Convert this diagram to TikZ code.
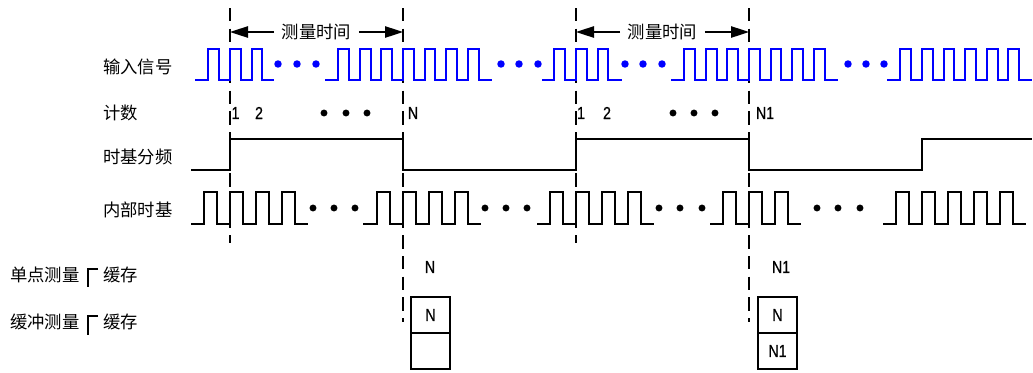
\documentclass[tikz,border=0pt]{standalone}
\usepackage{fontspec}
\setmainfont{Noto Sans CJK SC}
\newfontfamily\narrowfont[FakeStretch=0.82,FakeBold=0.6]{Liberation Sans}
\usetikzlibrary{arrows.meta}

\begin{document}
\begin{tikzpicture}[x=0.75pt,y=-0.75pt,
row/.style={%
font={\fontsize{13pt}{15}\selectfont},
inner sep=0,
anchor=west,
},
tag/.style={%
font={\narrowfont\fontsize{13pt}{15}\selectfont},
inner sep=0,
},
spantext/.style={%
font={\fontsize{13pt}{15}\selectfont},
inner sep=5.5pt,
},
span/.style={%
line width=1.2pt,
-{Triangle[length=13.5pt,width=8.5pt]},
},
sig/.style={%
draw=blue,
line width=1.5pt,
},
clk/.style={%
draw=black,
line width=1.5pt,
},
cut/.style={%
line width=1.5pt,
dash pattern=on 10pt off 5.5pt,
},
brk/.style={%
line width=1.2pt,
},
cell/.style={%
tag,
draw,
line width=1.5pt,
outer sep=0,
minimum width=29.25pt,
minimum height=27pt,
}
]
\useasboundingbox (0,0) rectangle (1033,372);

%Row labels
\node[row](inp)at(103,67){输入信号};
\node[row](cnt)at(103,113){计数};
\node[row](div)at(103,157){时基分频};
\node[row](base)at(103,210){内部时基};

%Cut lines
\coordinate(c1)at(230,8);\coordinate(c1b)at(230,243);
\coordinate(c2)at(403,8);\coordinate(c2b)at(403,322);
\coordinate(c3)at(576,8);\coordinate(c3b)at(576,243);
\coordinate(c4)at(749,8);\coordinate(c4b)at(749,322);
\draw[cut](c1)--(c1b);
\draw[cut](c2)--(c2b);
\draw[cut](c3)--(c3b);
\draw[cut](c4)--(c4b);

%Measuring time
\node[spantext](span1)at(316.5,32){测量时间};
\draw[span](span1.west)--(span1.west-|c1);
\draw[span](span1.east)--(span1.east-|c2);
\node[spantext](span2)at(662.5,32){测量时间};
\draw[span](span2.west)--(span2.west-|c3);
\draw[span](span2.east)--(span2.east-|c4);

%Input signal
\draw[sig](195,80)-|(208,49)-|(219,80)-|(230,49)-|(241,80)-|(252,49)-|(262,80)--(274,80);
\draw[sig](325,80)-|(338,49)-|(349,80)-|(360,49)-|(371,80)-|(381,49)-|(392,80)-|(403,49)
  -|(414,80)-|(425,49)-|(435,80)-|(446,49)-|(457,80)-|(468,49)-|(479,80)--(492,80);
\draw[sig](542,80)-|(554,49)-|(565,80)-|(576,49)-|(587,80)-|(598,49)-|(608,80)--(622,80);
\draw[sig](671,80)-|(684,49)-|(695,80)-|(706,49)-|(717,80)-|(727,49)-|(738,80)-|(749,49)
  -|(760,80)-|(771,49)-|(781,80)-|(792,49)-|(803,80)-|(814,49)-|(825,80)--(838,80);
\draw[sig](887,80)-|(900,49)-|(911,80)-|(922,49)-|(933,80)-|(944,49)-|(954,80)-|(965,49)
  -|(976,80)-|(987,49)-|(998,80)-|(1008,49)-|(1019,80)--(1032,80);
\fill[blue](278,64)circle(2.8pt)(297,64)circle(2.8pt)(316,64)circle(2.8pt);
\fill[blue](501,64)circle(2.8pt)(519,64)circle(2.8pt)(538,64)circle(2.8pt);
\fill[blue](625,64)circle(2.8pt)(643,64)circle(2.8pt)(662,64)circle(2.8pt);
\fill[blue](848,64)circle(2.8pt)(866,64)circle(2.8pt)(884,64)circle(2.8pt);

%Count
\node[tag](k1)at(235.5,113){1};
\node[tag](k2)at(259,113){2};
\node[tag](kn)at(413,113){N};
\node[tag](k3)at(581,113){1};
\node[tag](k4)at(607,113){2};
\node[tag](kn1)at(765,113){N1};
\fill(324,113)circle(2.6pt)(346,113)circle(2.6pt)(367,113)circle(2.6pt);
\fill(673,113)circle(2.6pt)(694,113)circle(2.6pt)(715,113)circle(2.6pt);

%Time base divider
\draw[clk](191,170)-|(230,139)-|(403,170)-|(576,139)-|(749,170)-|(922,139)--(1032,139);

%Internal time base
\draw[clk](191,224)-|(204,192)-|(217,224)-|(230,192)-|(243,224)-|(256,192)-|(269,224)
  -|(282,192)-|(295,224)--(308,224);
\draw[clk](363,224)-|(377,192)-|(390,224)-|(403,192)-|(416,224)-|(429,192)-|(442,224)
  -|(455,192)-|(468,224)--(481,224);
\draw[clk](537,224)-|(550,192)-|(563,224)-|(576,192)-|(589,224)-|(602,192)-|(615,224)
  -|(628,192)-|(641,224)--(654,224);
\draw[clk](710,224)-|(723,192)-|(736,224)-|(749,192)-|(762,224)-|(775,192)-|(788,224)--(801,224);
\draw[clk](883,224)-|(896,192)-|(909,224)-|(922,192)-|(935,224)-|(948,192)-|(961,224)
  -|(974,192)-|(987,224)-|(1000,192)-|(1013,224)--(1026,224);
\fill(313,208)circle(2.6pt)(334,208)circle(2.6pt)(355,208)circle(2.6pt);
\fill(485,208)circle(2.6pt)(506,208)circle(2.6pt)(527,208)circle(2.6pt);
\fill(659,208)circle(2.6pt)(680,208)circle(2.6pt)(702,208)circle(2.6pt);
\fill(817,208)circle(2.6pt)(838,208)circle(2.6pt)(860,208)circle(2.6pt);

%Single measurement
\node[row](single)at(10,275){单点测量};
\draw[brk](98,269)--(88,269)--(88,287);
\node[row](store1)at(103,275){缓存};
\node[tag](outa)at(430,267){N};
\node[tag](outb)at(781,267){N1};

%Buffered measurement
\node[row](buffer)at(10,322){缓冲测量};
\draw[brk](98,316)--(88,316)--(88,335);
\node[row](store2)at(103,322){缓存};
\node[cell](bufa)at(430.5,315){N};
\node[cell](bufb)at(430.5,351){};
\node[cell](bufc)at(777.5,315){N};
\node[cell](bufd)at(777.5,351){N1};
\end{tikzpicture}
\end{document}
